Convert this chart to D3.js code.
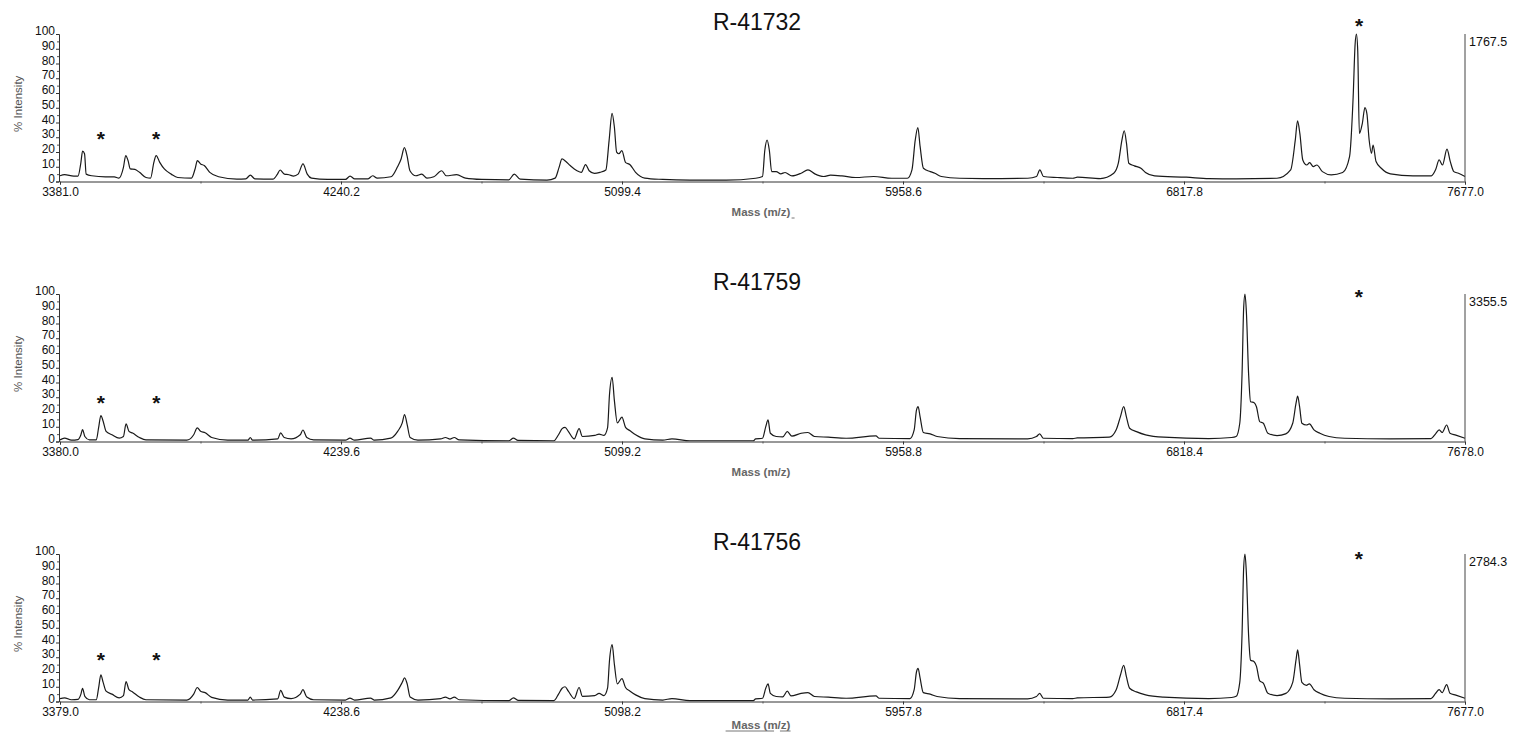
<!DOCTYPE html>
<html><head><meta charset="utf-8">
<script src="https://cdn.jsdelivr.net/npm/d3@7"></script>
<style>
html,body{margin:0;padding:0;background:#fff;}
svg{display:block;font-family:Arial,"Liberation Sans",sans-serif;}
</style></head>
<body>
<svg id="chart" width="1524" height="740"></svg>
<script>
// ---------- data ----------
const titles = ["R-41732", "R-41759", "R-41756"];
const xDomains = [[3381.0, 7677.0], [3380.0, 7678.0], [3379.0, 7677.0]];
const xTickLabels = [
  ["3381.0", "4240.2", "5099.4", "5958.6", "6817.8", "7677.0"],
  ["3380.0", "4239.6", "5099.2", "5958.8", "6818.4", "7678.0"],
  ["3379.0", "4238.6", "5098.2", "5957.8", "6817.4", "7677.0"]
];
const yTicks = [0, 10, 20, 30, 40, 50, 60, 70, 80, 90, 100];
const maxCounts = ["1767.5", "3355.5", "2784.3"];
const xAxisLabel = "Mass (m/z)";
const yAxisLabel = "% Intensity";

// [mass, % intensity]
const spectrum1 = [
[3381,3.9],[3395,4.6],[3423,3.7],[3436,3.7],[3445,13],[3450,20.6],[3456,18.8],[3461,5],[3478,3.9],[3520,3.2],[3547,3.2],[3561,2.3],
[3575,9.6],[3582,17.6],[3589,14.2],[3596,8.5],[3610,8.2],[3624,6.2],[3644,2.7],[3658,2.3],[3668,13],[3675,17.6],[3686,13],[3700,8.5],
[3721,5],[3741,2.7],[3783,2.3],[3794,8.5],[3801,14.2],[3811,11.9],[3822,10.8],[3839,6.2],[3866,3.2],[3922,1.6],[3949,1.8],[3963,4.3],
[3977,1.8],[4032,1.6],[4046,5],[4054,7.8],[4067,5],[4081,4.6],[4095,3.7],[4109,5],[4124,11.9],[4137,5],[4150,2.3],[4199,1.4],[4254,1.4],
[4268,3.7],[4282,1.8],[4323,1.8],[4337,3.9],[4351,2.3],[4393,3.2],[4413,10],[4424,15.3],[4434,22.9],[4442,17.6],[4451,7.3],[4469,3.9],
[4487,5],[4503,2.3],[4524,3.2],[4548,7.3],[4562,3.9],[4594,4.6],[4621,2.3],[4670,1.4],[4753,1.1],[4770,5],[4788,1.6],[4870,0.9],[4895,2.3],
[4907,9.6],[4916,15.3],[4927,13.7],[4941,10.8],[4962,7.3],[4975,6.2],[4988,11.4],[4999,7.3],[5015,5.5],[5032,6.2],[5050,7.8],[5060,27.9],
[5069,46.2],[5076,37.1],[5083,19.9],[5090,18.8],[5099,21],[5110,13],[5124,11.4],[5141,6.2],[5169,2.3],[5224,1.4],[5307,0.9],[5418,0.9],
[5508,2.2],[5529,3.4],[5536,21],[5543,28],[5550,21],[5557,6.7],[5571,6.7],[5585,5.2],[5598,6.1],[5619,3.8],[5647,5.6],[5668,7.9],[5689,5.2],
[5716,3.4],[5737,4.3],[5772,3.8],[5813,2.7],[5869,3.4],[5924,2.2],[5972,2.2],[5986,7.9],[5996,28],[6004,36.6],[6011,23.6],[6021,9],
[6042,6.7],[6056,5.6],[6076,3.4],[6132,2.2],[6229,2],[6340,2.2],[6367,3.4],[6377,7.9],[6388,3.4],[6430,2.7],[6478,2.2],[6492,2.9],[6562,2],
[6603,5.6],[6617,12.4],[6628,28],[6635,34.4],[6642,25.8],[6649,12.4],[6666,10.6],[6686,9],[6700,6.1],[6728,3.8],[6825,2.9],[6894,2],
[6977,1.8],[7102,2.2],[7144,7.9],[7158,28],[7165,41.1],[7172,32.6],[7181,14.6],[7193,11.2],[7202,12.8],[7213,10.1],[7224,11.2],[7241,6.7],
[7268,4.5],[7303,6.1],[7324,16.9],[7335,57.3],[7341,93],[7345,100],[7349,88.8],[7354,32.6],[7363,39.3],[7371,50.1],[7377,46],[7384,28],
[7391,19.1],[7396,24.7],[7405,13.5],[7421,9],[7449,5.2],[7518,3.8],[7574,3.8],[7587,7.9],[7598,14.6],[7608,11.2],[7622,22],[7632,13.5],
[7643,6.7],[7657,5.6],[7677,3.4]
];
const spectrum2 = [
[3380,1.1],[3394,2.3],[3415,0.9],[3435,1.3],[3444,4.6],[3449,8],[3456,3.4],[3470,1.1],[3491,1.1],[3498,9.2],[3505,17.6],[3512,13.7],
[3521,6.9],[3539,4.6],[3561,2.3],[3574,3.4],[3582,11.9],[3591,6.9],[3602,5.7],[3623,2.7],[3643,1.1],[3768,0.9],[3789,4.6],[3800,9.2],
[3810,6.9],[3824,5.9],[3844,2.7],[3893,0.9],[3955,0.9],[3962,2.7],[3969,0.9],[4046,1.8],[4055,5.9],[4066,2.7],[4087,1.8],[4115,4.6],
[4123,7.8],[4135,2.7],[4156,1.1],[4253,0.9],[4267,2.3],[4281,0.9],[4330,2.3],[4341,0.9],[4392,2.3],[4413,6.9],[4427,12.6],[4434,18.3],
[4442,11.4],[4451,2.7],[4475,0.9],[4545,1.8],[4559,2.7],[4573,1.6],[4586,2.7],[4601,1.1],[4753,0.5],[4767,2.3],[4781,0.7],[4891,0.5],
[4905,4.6],[4916,8.7],[4925,9.6],[4935,6.9],[4953,1.8],[4968,8.7],[4978,3.4],[5016,4.1],[5029,5],[5044,4.1],[5055,9.2],[5061,32],
[5069,43.5],[5076,27.5],[5085,12.6],[5099,16.5],[5110,9.6],[5124,7.3],[5141,4.6],[5169,1.8],[5224,0.9],[5252,1.8],[5307,0.5],[5446,0.5],
[5501,0.5],[5508,1.8],[5529,2.2],[5539,10.1],[5546,14.6],[5553,5.6],[5571,3.4],[5591,3.1],[5605,6.7],[5619,3.6],[5647,5.6],[5668,6.1],
[5688,3.4],[5730,2.9],[5785,2.2],[5876,3.8],[5886,2.2],[5980,2],[5993,7.9],[6000,21.3],[6005,23.6],[6011,16.9],[6021,6.1],[6042,5.2],
[6063,3.4],[6132,2],[6340,1.8],[6367,3.4],[6377,5.2],[6388,2.2],[6478,2],[6492,2.4],[6590,2.9],[6611,7.9],[6624,16.9],[6634,23.6],
[6642,16.9],[6652,9],[6673,6.7],[6701,4.5],[6756,2.9],[6894,2],[6964,2.7],[6978,3.4],[6989,12.4],[6996,46],[7001,91],[7005,100],
[7009,88.8],[7016,46],[7022,27],[7033,26.3],[7040,23.6],[7050,13.5],[7061,12.4],[7075,5.6],[7103,4],[7130,5.2],[7151,12.4],[7161,25.8],
[7166,30.8],[7172,23.6],[7179,12.4],[7193,11.2],[7202,11.9],[7216,7.9],[7234,5.6],[7262,3.4],[7310,2.2],[7449,1.8],[7574,2],[7588,5.2],
[7599,7.9],[7608,6.1],[7622,11.2],[7632,5.6],[7650,4.3],[7678,2.2]
];
const spectrum3 = [
[3379,2],[3393,2.5],[3414,1.2],[3434,1.5],[3443,5],[3448,9],[3455,3.5],[3469,1.2],[3490,1.2],[3497,9],[3504,18],[3511,13],[3520,7],
[3538,5],[3560,2.5],[3573,4],[3581,13.5],[3590,8],[3601,6.5],[3622,3],[3642,1.2],[3767,1],[3788,5],[3799,9.5],[3809,7],[3823,6],
[3843,2.8],[3892,1],[3954,1],[3961,3],[3968,1],[4045,1.8],[4054,7.5],[4065,3],[4086,2],[4114,5],[4122,8],[4134,3],[4155,1.2],[4252,1],
[4266,2.3],[4280,1],[4329,2.3],[4340,1],[4391,2.5],[4412,7.5],[4426,13],[4433,16],[4441,12],[4450,3],[4474,1],[4544,2],[4558,3],
[4572,1.8],[4585,3],[4600,1.2],[4752,0.6],[4766,2.5],[4780,0.8],[4890,0.6],[4904,5],[4915,9],[4924,10],[4934,7],[4952,2],[4967,9.5],
[4977,3.5],[5015,4],[5028,5.5],[5043,4],[5054,9],[5060,28],[5068,38.5],[5075,25],[5084,12],[5098,15.5],[5109,9.5],[5123,7],[5140,4.5],
[5168,2],[5223,1],[5251,2],[5306,0.6],[5445,0.6],[5500,0.6],[5507,1.8],[5528,2.2],[5538,9],[5545,12],[5552,5.5],[5570,3.4],[5590,3.2],
[5604,7],[5615,3.8],[5646,5.5],[5667,6],[5687,3.4],[5729,2.9],[5784,2.2],[5875,3.8],[5885,2.2],[5979,2],[5992,8],[5999,20],[6004,22.5],
[6010,16],[6020,6],[6041,5],[6062,3.4],[6131,2],[6339,1.8],[6366,3.4],[6376,5.5],[6387,2.2],[6477,2],[6491,2.4],[6589,3],[6610,8],
[6623,18],[6633,24.5],[6641,17],[6651,9],[6672,6.5],[6700,4.5],[6755,3],[6893,2],[6963,2.7],[6977,3.5],[6988,13],[6995,46],[7000,91],
[7004,100],[7008,88],[7015,45],[7021,28],[7032,27],[7039,24],[7049,14],[7060,12.5],[7074,5.6],[7102,4],[7129,5.5],[7150,13],[7160,28],
[7165,35],[7171,25],[7178,13],[7192,11],[7201,12],[7215,8],[7233,5.6],[7261,3.4],[7309,2.2],[7448,1.8],[7573,2],[7587,5.5],[7598,8],
[7607,6],[7621,11.5],[7631,5.6],[7649,4.3],[7677,2.2]
];
const spectra = [spectrum1, spectrum2, spectrum3];

// asterisk annotations [mass, % intensity at glyph centre]
const stars1 = [[3506, 31.5], [3675, 31.5], [7353, 108]];
const stars2 = [[3505, 29], [3675, 29], [7353, 101]];
const stars3 = [[3504, 31], [3674, 31], [7352, 99.5]];
const stars = [stars1, stars2, stars3];

// ---------- layout ----------
const svg = d3.select("#chart");
const plotLeft = 60, plotRight = 1465;
const panelTop0 = 34, panelBottom0 = 181.5, panelStep = 260;
const xTitleOffset = [34.5, 34.5, 27];
const font = "Arial, 'Liberation Sans', sans-serif";

titles.forEach((title, i) => {
  const top = panelTop0 + panelStep * i;
  const bottom = panelBottom0 + panelStep * i;
  const g = svg.append("g");

  const x = d3.scaleLinear().domain(xDomains[i]).range([plotLeft, plotRight]);
  const y = d3.scaleLinear().domain([0, 100]).range([bottom, top]);

  // title
  g.append("text").attr("x", 757).attr("y", top - 4)
    .attr("text-anchor", "middle").attr("font-size", 23).attr("fill", "#111")
    .text(title);

  // spectrum line
  g.append("path").datum(spectra[i])
    .attr("fill", "none").attr("stroke", "#1a1a1a").attr("stroke-width", 1.2)
    .attr("stroke-linejoin", "round")
    .attr("d", d3.line().curve(d3.curveMonotoneX).x(d => x(d[0])).y(d => y(d[1])));

  // y axis
  const yAxis = g.append("g").attr("transform", `translate(${plotLeft - 1},0)`)
    .call(d3.axisLeft(y).tickValues(yTicks).tickSize(3).tickPadding(1).tickFormat(d3.format("d")));
  yAxis.select(".domain").attr("stroke", "#333");
  yAxis.selectAll(".tick line").attr("stroke", "#333");
  yAxis.selectAll("text").attr("font-size", 12).attr("fill", "#111")
    .attr("font-family", font).attr("dy", "0.05em");
  // minor y ticks
  g.append("g").attr("transform", `translate(${plotLeft - 1},0)`)
    .call(d3.axisLeft(y).tickValues(d3.range(5, 100, 10)).tickSize(2).tickFormat(""))
    .call(s => s.select(".domain").remove())
    .selectAll("line").attr("stroke", "#555");

  // x axis
  const xVals = xTickLabels[i].map(Number);
  const xAxis = g.append("g").attr("transform", `translate(0,${bottom})`)
    .call(d3.axisBottom(x).tickValues(xVals).tickSize(3).tickPadding(3)
      .tickFormat((d, k) => xTickLabels[i][k]));
  xAxis.select(".domain").attr("stroke", "#333");
  xAxis.selectAll(".tick line").attr("stroke", "#333");
  xAxis.selectAll("text").attr("font-size", 12).attr("fill", "#111")
    .attr("font-family", font);
  const mids = d3.pairs(xVals).map(p => (p[0] + p[1]) / 2);
  g.append("g").attr("transform", `translate(0,${bottom})`)
    .call(d3.axisBottom(x).tickValues(mids).tickSize(2).tickFormat(""))
    .call(s => s.select(".domain").remove())
    .selectAll("line").attr("stroke", "#555");

  // right axis line + max count label
  g.append("line").attr("x1", plotRight).attr("x2", plotRight)
    .attr("y1", top).attr("y2", bottom).attr("stroke", "#444").attr("stroke-width", 1);
  g.append("text").attr("x", plotRight + 4).attr("y", top + 12)
    .attr("font-size", 12.5).attr("fill", "#111").text(maxCounts[i]);

  // axis titles
  const xt = g.append("text").attr("x", 761).attr("y", bottom + xTitleOffset[i])
    .attr("text-anchor", "middle").attr("font-size", 11.5).attr("font-weight", "bold")
    .attr("fill", "#666").text(xAxisLabel);
  const bb = xt.node().getBBox();
  if (i === 0) {
    // small cursor mark after the label, as in the reference
    g.append("line").attr("x1", bb.x + bb.width + 1).attr("x2", bb.x + bb.width + 4)
      .attr("y1", bottom + xTitleOffset[i] + 2).attr("y2", bottom + xTitleOffset[i] + 2)
      .attr("stroke", "#777").attr("stroke-width", 1);
  }
  if (i === 2) {
    // underline under the label, as in the reference
    g.append("line").attr("x1", bb.x - 6).attr("x2", bb.x + bb.width * 0.72)
      .attr("y1", bottom + xTitleOffset[i] + 2.5).attr("y2", bottom + xTitleOffset[i] + 2.5)
      .attr("stroke", "#777").attr("stroke-width", 1);
    g.append("line").attr("x1", bb.x + bb.width * 0.82).attr("x2", bb.x + bb.width)
      .attr("y1", bottom + xTitleOffset[i] + 2.5).attr("y2", bottom + xTitleOffset[i] + 2.5)
      .attr("stroke", "#777").attr("stroke-width", 1);
  }
  g.append("text")
    .attr("transform", `translate(22,${(top + bottom) / 2 - 4}) rotate(-90)`)
    .attr("text-anchor", "middle").attr("font-size", 11.5).attr("fill", "#555")
    .text(yAxisLabel);

  // asterisks
  g.selectAll(".star").data(stars[i]).enter().append("text")
    .attr("class", "star")
    .attr("x", d => x(d[0])).attr("y", d => y(d[1]) + 11)
    .attr("text-anchor", "middle").attr("font-size", 21).attr("font-weight", "bold")
    .attr("fill", "#111").text("*");
});
</script>
</body></html>
